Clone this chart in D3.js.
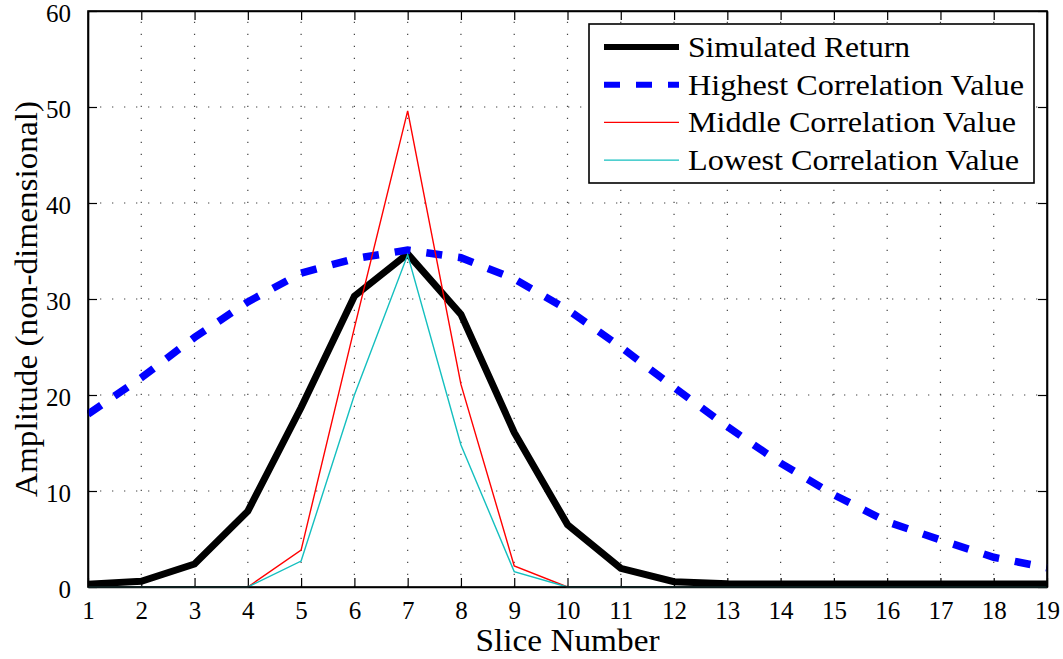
<!DOCTYPE html>
<html>
<head>
<meta charset="utf-8">
<script src="https://cdn.jsdelivr.net/npm/d3@7"></script>
<style>
  html, body { margin: 0; padding: 0; background: #fff; }
  svg text { font-family: "Liberation Serif", "Times New Roman", serif; fill: #000; }
</style>
</head>
<body>
<svg id="chart" width="1063" height="659"></svg>
<script>
// Slice numbers along the x axis
const slices = [1, 2, 3, 4, 5, 6, 7, 8, 9, 10, 11, 12, 13, 14, 15, 16, 17, 18, 19];

// Amplitude of each series per slice
const simulatedReturn    = [0.3, 0.6, 2.4, 7.9, 18.7, 30.3, 34.7, 28.4, 16.1, 6.5, 1.95, 0.55, 0.35, 0.3, 0.3, 0.3, 0.3, 0.3, 0.3];
const highestCorrelation = [18.0, 21.8, 26.0, 29.7, 32.7, 34.2, 35.1, 34.3, 32.1, 28.9, 25.0, 20.8, 16.7, 12.9, 9.6, 6.8, 4.9, 3.1, 2.0];
const middleCorrelation  = [0, 0, 0, 0, 3.85, 27.0, 49.6, 21.1, 2.2, 0, 0, 0, 0, 0, 0, 0, 0, 0, 0];
const lowestCorrelation  = [0, 0, 0, 0, 2.7, 20.0, 34.6, 14.8, 1.6, 0, 0, 0, 0, 0, 0, 0, 0, 0, 0];

// Axis ticks
const xTicks = [1, 2, 3, 4, 5, 6, 7, 8, 9, 10, 11, 12, 13, 14, 15, 16, 17, 18, 19];
const yTicks = [0, 10, 20, 30, 40, 50, 60];

// Legend entries
const seriesNames = ["Simulated Return", "Highest Correlation Value", "Middle Correlation Value", "Lowest Correlation Value"];

const svg = d3.select("#chart");
const W = 1063, H = 659;
const m = { left: 88, right: 16, top: 11, bottom: 72 };
const pw = W - m.left - m.right, ph = H - m.top - m.bottom;

const x = d3.scaleLinear().domain([1, 19]).range([m.left, m.left + pw]);
const y = d3.scaleLinear().domain([0, 60]).range([m.top + ph, m.top]);

// Widen a serif label horizontally to the given length
function widen(sel, len) {
  sel.attr("textLength", len).attr("lengthAdjust", "spacingAndGlyphs");
  return sel;
}

svg.append("rect").attr("width", W).attr("height", H).attr("fill", "#fff");

// Dotted grid
const grid = svg.append("g").attr("stroke", "#444").attr("stroke-width", 1.2)
  .attr("stroke-dasharray", "1.3 10.7");
grid.selectAll("line.v").data(xTicks.slice(1, -1)).join("line")
  .attr("x1", d => x(d)).attr("x2", d => x(d))
  .attr("y1", y(0)).attr("y2", y(60));
grid.selectAll("line.h").data(yTicks.slice(1, -1)).join("line")
  .attr("x1", x(1)).attr("x2", x(19))
  .attr("y1", d => y(d)).attr("y2", d => y(d));

// Axes with inward ticks on all four sides
const tickLen = 9;
const axB = svg.append("g").attr("transform", `translate(0,${y(0)})`)
  .call(d3.axisBottom(x).tickValues(xTicks).tickFormat(d3.format("d")).tickSizeInner(-tickLen).tickSizeOuter(0).tickPadding(tickLen + 6));
const axT = svg.append("g").attr("transform", `translate(0,${y(60)})`)
  .call(d3.axisTop(x).tickValues(xTicks).tickFormat("").tickSizeInner(-tickLen).tickSizeOuter(0));
const axL = svg.append("g").attr("transform", `translate(${x(1)},0)`)
  .call(d3.axisLeft(y).tickValues(yTicks).tickFormat(d3.format("d")).tickSizeInner(-tickLen).tickSizeOuter(0).tickPadding(tickLen + 8));
const axR = svg.append("g").attr("transform", `translate(${x(19)},0)`)
  .call(d3.axisRight(y).tickValues(yTicks).tickFormat("").tickSizeInner(-tickLen).tickSizeOuter(0));

[axB, axT, axL, axR].forEach(g => {
  g.select(".domain").attr("stroke", "#000").attr("stroke-width", 1.6);
  g.selectAll(".tick line").attr("stroke", "#000").attr("stroke-width", 1.2);
  g.selectAll(".tick text").attr("font-size", 25).attr("font-family", "Liberation Serif, Times New Roman, serif").attr("fill", "#000");
});
axB.selectAll(".tick text").attr("dy", "0.68em");
axL.selectAll(".tick text").attr("dy", "0.42em");

// Data lines
svg.append("clipPath").attr("id", "plotclip").append("rect")
  .attr("x", m.left - 1).attr("y", m.top - 6).attr("width", pw + 2).attr("height", ph + 10);

const series = [
  { name: seriesNames[0], values: simulatedReturn,    color: "#000000", width: 7,   dash: null,    legendLen: 222 },
  { name: seriesNames[1], values: highestCorrelation, color: "#0000ff", width: 7.5, dash: "16 16", legendLen: 336 },
  { name: seriesNames[2], values: middleCorrelation,  color: "#ff0000", width: 1.4, dash: null,    legendLen: 328 },
  { name: seriesNames[3], values: lowestCorrelation,  color: "#14bfbf", width: 1.4, dash: null,    legendLen: 331 }
];

const line = d3.line().x(d => x(d[0])).y(d => y(d[1]));
const lines = svg.append("g").attr("clip-path", "url(#plotclip)");
series.forEach(s => {
  lines.append("path")
    .datum(slices.map((sl, i) => [sl, s.values[i]]))
    .attr("d", line)
    .attr("fill", "none")
    .attr("stroke", s.color)
    .attr("stroke-width", s.width)
    .attr("stroke-linejoin", "miter")
    .attr("stroke-dasharray", s.dash);
});

// Frame on top
svg.append("rect").attr("x", x(1)).attr("y", y(60)).attr("width", pw).attr("height", ph)
  .attr("fill", "none").attr("stroke", "#000").attr("stroke-width", 1.6);

// Axis titles
widen(svg.append("text").attr("x", x(10)).attr("y", 651).attr("text-anchor", "middle")
  .attr("font-size", 32).text("Slice Number"), 184);
widen(svg.append("text").attr("transform", `translate(37,${y(30)}) rotate(-90)`)
  .attr("text-anchor", "middle").attr("font-size", 31).text("Amplitude (non-dimensional)"), 396);

// Legend
const lg = svg.append("g");
lg.append("rect").attr("x", 589).attr("y", 24).attr("width", 445).attr("height", 159)
  .attr("fill", "#fff").attr("stroke", "#000").attr("stroke-width", 1.6);
series.forEach((s, i) => {
  const cy = 47 + i * 37.7;
  lg.append("line").attr("x1", 604).attr("x2", 679).attr("y1", cy).attr("y2", cy)
    .attr("stroke", s.color).attr("stroke-width", Math.min(s.width, 6))
    .attr("stroke-dasharray", s.dash);
  widen(lg.append("text").attr("x", 688).attr("y", cy + 10).attr("font-size", 30).text(s.name), s.legendLen);
});
</script>
</body>
</html>
